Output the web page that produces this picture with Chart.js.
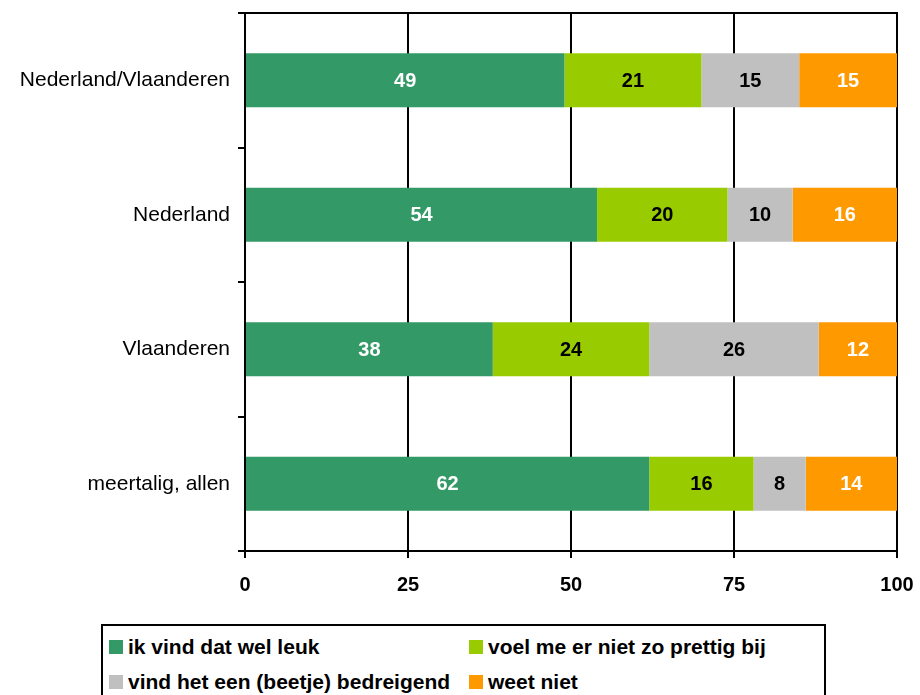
<!DOCTYPE html>
<html>
<head>
<meta charset="utf-8">
<script src="https://cdn.jsdelivr.net/npm/chart.js@4"></script>
<style>
  body { margin: 0; background: #fff; font-family: "Liberation Sans", Arial, sans-serif; }
  #wrap { position: relative; width: 920px; height: 695px; overflow: hidden; }
  #box { position: absolute; left: 0; top: 0; width: 920px; height: 620px; }
  #legend {
    position: absolute; left: 101px; top: 624px; width: 721px; height: 90px;
    border: 2px solid #000; box-sizing: content-box;
  }
  .item { position: absolute; display: flex; align-items: center; font-weight: bold; font-size: 21px; color: #000; white-space: nowrap; }
  .swatch { width: 14px; height: 14px; margin-right: 5px; }
</style>
</head>
<body>
<div id="wrap">
  <div id="box"><canvas id="chart"></canvas></div>
  <div id="legend"></div>
</div>
<script>
// categories (top to bottom)
const categories = ['Nederland/Vlaanderen', 'Nederland', 'Vlaanderen', 'meertalig, allen'];

// series
const seriesNames = ['ik vind dat wel leuk', 'voel me er niet zo prettig bij', 'vind het een (beetje) bedreigend', 'weet niet'];
const leuk = [49, 54, 38, 62];
const nietPrettig = [21, 20, 24, 16];
const bedreigend = [15, 10, 26, 8];
const weetNiet = [15, 16, 12, 14];

const colors = ['#339966', '#99CC00', '#C0C0C0', '#FF9900'];
const labelColors = ['#fff', '#000', '#000', '#fff'];
const xTicks = [0, 25, 50, 75, 100];

const FONT = '"Liberation Sans", Arial, sans-serif';

const seriesValues = [leuk, nietPrettig, bedreigend, weetNiet];
const datasets = seriesNames.map((name, i) => ({
  label: name,
  data: seriesValues[i],
  backgroundColor: colors[i],
  borderWidth: 0,
  categoryPercentage: 1,
  barPercentage: 0.4
}));

// value labels in the middle of each segment
const valueLabels = {
  id: 'valueLabels',
  afterDatasetsDraw(chart) {
    const ctx = chart.ctx;
    ctx.save();
    ctx.font = 'bold 20px ' + FONT;
    ctx.textAlign = 'center';
    ctx.textBaseline = 'middle';
    chart.data.datasets.forEach((ds, i) => {
      chart.getDatasetMeta(i).data.forEach((bar, j) => {
        ctx.fillStyle = labelColors[i];
        ctx.fillText(ds.data[j], (bar.x + bar.base) / 2, bar.y + 1);
      });
    });
    ctx.restore();
  }
};

// top edge of the plot frame
const frameTop = {
  id: 'frameTop',
  afterDraw(chart) {
    const a = chart.chartArea, ctx = chart.ctx;
    ctx.save();
    ctx.strokeStyle = '#000';
    ctx.lineWidth = 2;
    ctx.beginPath();
    ctx.moveTo(a.left, a.top);
    ctx.lineTo(a.right + 1, a.top);
    ctx.stroke();
    ctx.restore();
  }
};

new Chart(document.getElementById('chart').getContext('2d'), {
  type: 'bar',
  data: { labels: categories, datasets: datasets },
  options: {
    indexAxis: 'y',
    responsive: true,
    maintainAspectRatio: false,
    animation: false,
    layout: { padding: { top: 13, right: 23, left: 0, bottom: 0 } },
    plugins: { legend: { display: false }, tooltip: { enabled: false } },
    scales: {
      x: {
        stacked: true,
        min: 0,
        max: 100,
        afterBuildTicks: s => { s.ticks = xTicks.map(v => ({ value: v })); },
        afterFit: s => { s.height = 69; s.paddingLeft = 0; s.paddingRight = 0; },
        grid: { color: '#000', lineWidth: 2, tickLength: 7, drawOnChartArea: true },
        border: { color: '#000', width: 2 },
        ticks: { color: '#000', padding: 15, font: { family: FONT, size: 20, weight: 'bold' } }
      },
      y: {
        stacked: true,
        afterFit: s => { s.width = 245; s.paddingTop = 0; s.paddingBottom = 0; },
        grid: { color: '#000', lineWidth: 2, tickLength: 7, drawOnChartArea: false },
        border: { color: '#000', width: 2 },
        ticks: { color: '#000', padding: 8, font: { family: FONT, size: 21 } }
      }
    }
  },
  plugins: [valueLabels, frameTop]
});

// legend box, two columns
const legend = document.getElementById('legend');
const slots = [[6, 9], [366, 9], [6, 44], [366, 44]];
seriesNames.forEach((name, i) => {
  const it = document.createElement('div');
  it.className = 'item';
  it.style.left = slots[i][0] + 'px';
  it.style.top = slots[i][1] + 'px';
  it.innerHTML = '<span class="swatch" style="background:' + colors[i] + '"></span>' + name;
  legend.appendChild(it);
});
</script>
</body>
</html>
